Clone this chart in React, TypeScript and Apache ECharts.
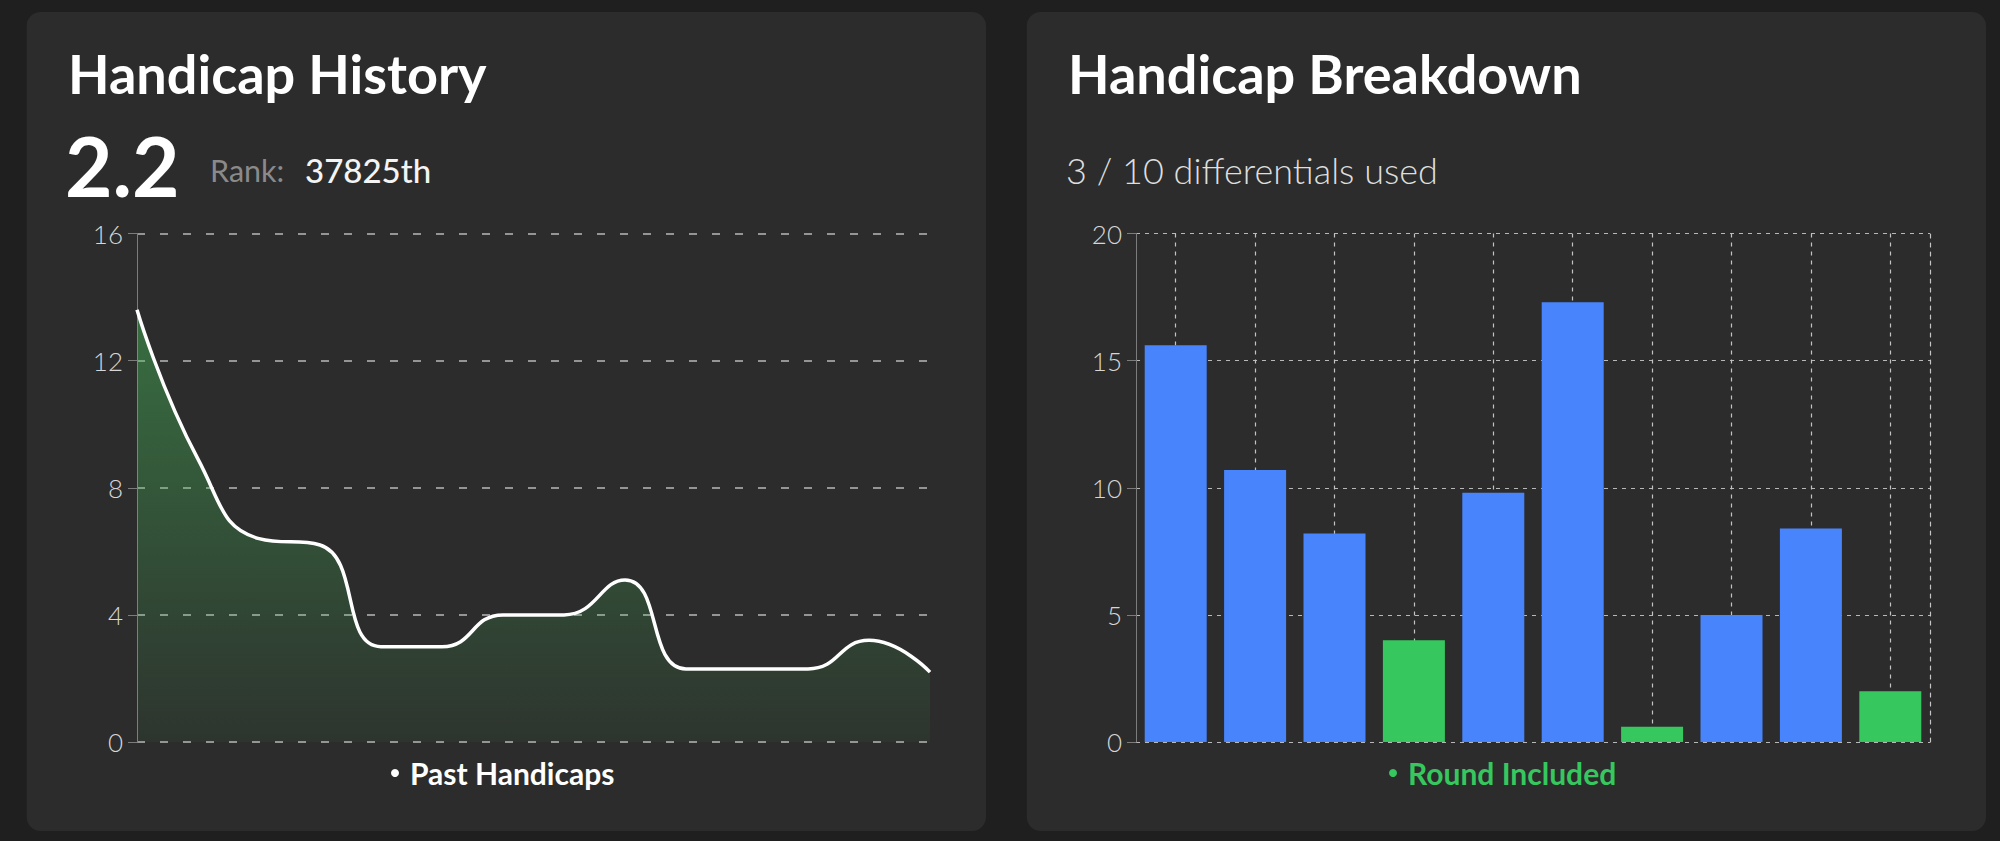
import React, { useEffect, useRef } from "react";
import * as echarts from "echarts";

// ---- data ----
const historyRounds = ["1", "2", "3", "4", "5", "6", "7", "8", "9", "10", "11", "12", "13", "14"];
const historyValues = [13.6, 8.9, 6.4, 6.2, 3.0, 3.0, 4.0, 4.0, 5.1, 2.3, 2.3, 2.3, 3.2, 2.2];
const historyTicks = { min: 0, max: 16, step: 4 };

const breakdownRounds = ["1", "2", "3", "4", "5", "6", "7", "8", "9", "10"];
const differentials = [15.6, 10.7, 8.2, 4.0, 9.8, 17.3, 0.6, 5.0, 8.4, 2.0];
const includedFlags = [false, false, false, true, false, false, true, false, false, true];
const breakdownTicks = { min: 0, max: 20, step: 5 };

const historyTitle = "Handicap History";
const breakdownTitle = "Handicap Breakdown";
const currentHandicap = "2.2";
const rankLabel = "Rank:";
const rankValue = "37825th";
const usedText = "3 / 10 differentials used";
const historyLegend = "Past Handicaps";
const breakdownLegend = "Round Included";

// ---- styles ----
const FONT = "Lato, 'Open Sans', sans-serif";
const BLUE = "#4884fc";
const GREEN = "#36c75f";
const CARD = "#2c2c2c";

export default function App() {
  const ref = useRef<HTMLDivElement>(null);

  useEffect(() => {
    if (!ref.current) return;
    const chart = echarts.init(ref.current, undefined, { renderer: "svg" });

    const text = (x: number, y: number, t: string, size: number, weight: number, fill: string) => ({
      type: "text",
      x,
      y,
      z: 10,
      style: {
        text: t,
        fill,
        fontFamily: FONT,
        fontSize: size,
        fontWeight: weight,
        verticalAlign: "middle",
        align: "left",
      },
    });

    const yAxisCommon = (dash: number[], dashWidth: number) => ({
      type: "value",
      axisLine: { show: true, lineStyle: { color: "#7c7c7c", width: 1 } },
      axisTick: { show: true, length: 9, lineStyle: { color: "#7c7c7c", width: 1 } },
      axisLabel: { color: "#d6d6d6", fontSize: 26, fontWeight: 300, fontFamily: FONT, margin: 14 },
      splitLine: { show: true, lineStyle: { color: "#b8b8b8", type: dash, width: dashWidth } },
    });

    const legendText = (color: string) => ({
      color,
      fontSize: 30,
      fontWeight: 700,
      fontFamily: FONT,
    });

    const option: any = {
      animation: false,
      backgroundColor: "#1f1f1f",
      textStyle: { fontFamily: FONT },
      graphic: [
        { type: "rect", z: -10, shape: { x: 26.7, y: 12, width: 959.3, height: 819, r: 14 }, style: { fill: CARD } },
        { type: "rect", z: -10, shape: { x: 1026.8, y: 12, width: 959.2, height: 819, r: 14 }, style: { fill: CARD } },
        text(68, 73, historyTitle, 54, 700, "#ffffff"),
        text(65, 165, currentHandicap, 82, 700, "#ffffff"),
        text(210, 170, rankLabel, 30.5, 400, "#8a8a8a"),
        text(305, 170, rankValue, 33, 500, "#f4f4f4"),
        text(1068, 73, breakdownTitle, 54, 700, "#ffffff"),
        text(1066, 170, usedText, 36, 300, "#dedede"),
      ],
      grid: [
        { left: 137, top: 233.5, width: 793, height: 508.5 },
        { left: 1136, top: 233.5, width: 794, height: 508.5 },
      ],
      xAxis: [
        {
          type: "category",
          gridIndex: 0,
          data: historyRounds,
          boundaryGap: false,
          axisLine: { show: false },
          axisTick: { show: false },
          axisLabel: { show: false },
          splitLine: { show: false },
        },
        {
          type: "category",
          gridIndex: 1,
          data: breakdownRounds,
          axisLine: { show: false },
          axisTick: { show: false },
          axisLabel: { show: false },
          splitLine: {
            show: true,
            interval: 0,
            alignWithLabel: true,
            lineStyle: { color: "#c4c4c4", type: [4, 5], width: 1.2 },
          },
        },
      ],
      yAxis: [
        {
          ...yAxisCommon([8, 15], 1.5),
          gridIndex: 0,
          min: historyTicks.min,
          max: historyTicks.max,
          interval: historyTicks.step,
        },
        {
          ...yAxisCommon([4, 5], 1.2),
          gridIndex: 1,
          min: breakdownTicks.min,
          max: breakdownTicks.max,
          interval: breakdownTicks.step,
        },
        {
          type: "value",
          gridIndex: 1,
          position: "right",
          min: breakdownTicks.min,
          max: breakdownTicks.max,
          interval: breakdownTicks.step,
          axisLine: { show: true, lineStyle: { color: "#c4c4c4", type: [4, 5], width: 1.2 } },
          axisTick: { show: false },
          axisLabel: { show: false },
          splitLine: { show: false },
        },
      ],
      legend: [
        {
          data: [historyLegend],
          left: 386,
          top: 753,
          icon: "circle",
          itemWidth: 20,
          itemHeight: 8,
          textStyle: legendText("#ffffff"),
        },
        {
          data: [breakdownLegend],
          left: 1384,
          top: 753,
          icon: "circle",
          itemWidth: 20,
          itemHeight: 8,
          textStyle: legendText(GREEN),
        },
      ],
      series: [
        {
          type: "line",
          name: historyLegend,
          xAxisIndex: 0,
          yAxisIndex: 0,
          data: historyValues,
          smooth: 0.5,
          symbol: "none",
          itemStyle: { color: "#ffffff" },
          lineStyle: { color: "#ffffff", width: 3.5 },
          areaStyle: {
            color: new echarts.graphic.LinearGradient(0, 0, 0, 1, [
              { offset: 0, color: "rgba(70,190,90,0.65)" },
              { offset: 1, color: "rgba(70,190,90,0.08)" },
            ]),
          },
        },
        {
          type: "bar",
          name: breakdownLegend,
          xAxisIndex: 1,
          yAxisIndex: 1,
          barWidth: 62,
          itemStyle: { color: GREEN },
          data: differentials.map((v, i) => ({
            value: v,
            itemStyle: { color: includedFlags[i] ? GREEN : BLUE },
          })),
        },
      ],
    };

    chart.setOption(option);
    return () => chart.dispose();
  }, []);

  return (
    <div
      ref={ref}
      style={{ position: "fixed", left: 0, top: 0, width: 2000, height: 841 }}
    />
  );
}
